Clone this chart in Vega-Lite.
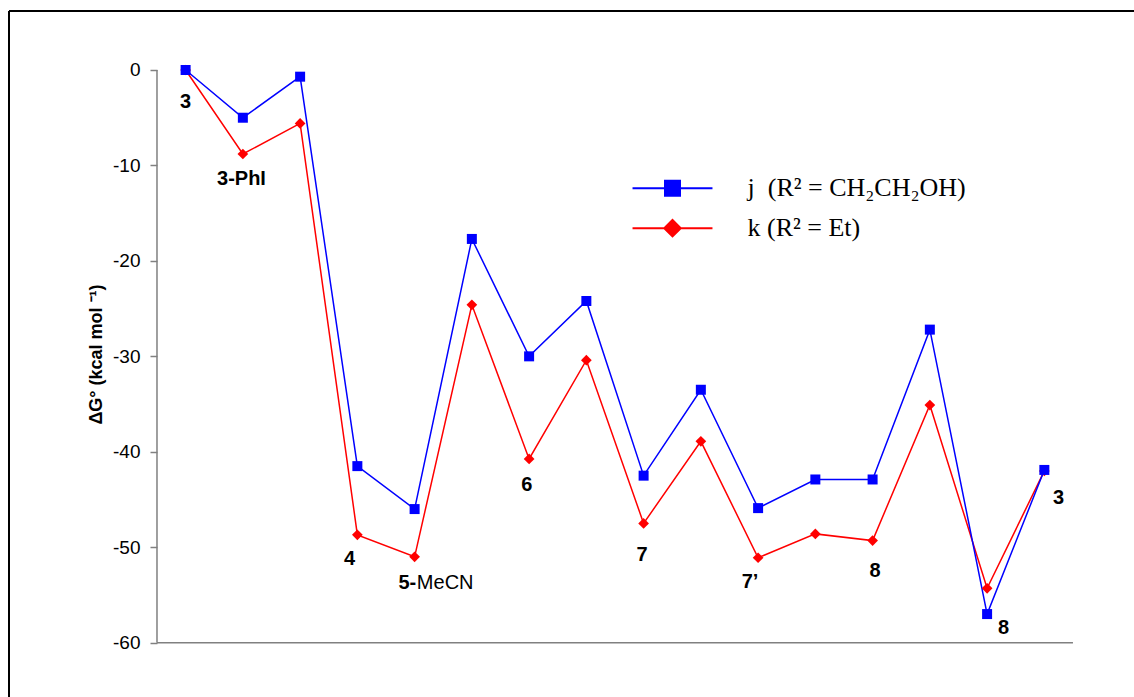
{
  "$schema": "https://vega.github.io/schema/vega-lite/v6.json",
  "width": 1125,
  "height": 686,
  "padding": {"left": 9, "top": 11, "right": 0, "bottom": 0},
  "autosize": {"type": "none"},
  "background": "white",
  "config": {"view": {"stroke": null}},
  "datasets": {
    "energies": [
      {"step": 1, "series": "j", "dG": 0},
      {"step": 2, "series": "j", "dG": -5.0},
      {"step": 3, "series": "j", "dG": -0.7},
      {"step": 4, "series": "j", "dG": -41.5},
      {"step": 5, "series": "j", "dG": -46.0},
      {"step": 6, "series": "j", "dG": -17.7},
      {"step": 7, "series": "j", "dG": -30.0},
      {"step": 8, "series": "j", "dG": -24.2},
      {"step": 9, "series": "j", "dG": -42.5},
      {"step": 10, "series": "j", "dG": -33.5},
      {"step": 11, "series": "j", "dG": -45.9},
      {"step": 12, "series": "j", "dG": -42.9},
      {"step": 13, "series": "j", "dG": -42.9},
      {"step": 14, "series": "j", "dG": -27.2},
      {"step": 15, "series": "j", "dG": -57.0},
      {"step": 16, "series": "j", "dG": -41.9},
      {"step": 1, "series": "k", "dG": 0},
      {"step": 2, "series": "k", "dG": -8.8},
      {"step": 3, "series": "k", "dG": -5.6},
      {"step": 4, "series": "k", "dG": -48.7},
      {"step": 5, "series": "k", "dG": -51.0},
      {"step": 6, "series": "k", "dG": -24.6},
      {"step": 7, "series": "k", "dG": -40.75},
      {"step": 8, "series": "k", "dG": -30.4},
      {"step": 9, "series": "k", "dG": -47.5},
      {"step": 10, "series": "k", "dG": -38.9},
      {"step": 11, "series": "k", "dG": -51.1},
      {"step": 12, "series": "k", "dG": -48.6},
      {"step": 13, "series": "k", "dG": -49.3},
      {"step": 14, "series": "k", "dG": -35.1},
      {"step": 15, "series": "k", "dG": -54.3},
      {"step": 16, "series": "k", "dG": -42.0}
    ],
    "boldLabels": [
      {"step": 1.0, "dG": -3.35, "label": "3"},
      {"step": 1.976, "dG": -11.47, "label": "3-PhI"},
      {"step": 3.863, "dG": -51.23, "label": "4"},
      {"step": 4.873, "dG": -53.78, "label": "5-"},
      {"step": 6.958, "dG": -43.43, "label": "6"},
      {"step": 8.972, "dG": -50.76, "label": "7"},
      {"step": 10.859, "dG": -53.59, "label": "7’"},
      {"step": 13.042, "dG": -52.44, "label": "8"},
      {"step": 15.286, "dG": -58.41, "label": "8"},
      {"step": 16.247, "dG": -44.84, "label": "3"}
    ],
    "plainLabels": [
      {"step": 5.534, "dG": -53.78, "label": "MeCN"}
    ],
    "one": [{}]
  },
  "layer": [
    {
      "data": {"name": "one"},
      "mark": {"type": "rule", "color": "black", "strokeWidth": 2},
      "encoding": {
        "x": {"datum": -2.085, "type": "quantitative", "scale": {"domain": [-2.085, 17.566], "nice": false, "zero": false}, "axis": null},
        "y": {"datum": 6.181, "type": "quantitative", "scale": {"domain": [-65.689, 6.181], "nice": false, "zero": false}},
        "y2": {"datum": -65.689}
      }
    },
    {
      "data": {"name": "one"},
      "mark": {"type": "rule", "color": "black", "strokeWidth": 2},
      "encoding": {
        "y": {"datum": 6.181, "type": "quantitative"},
        "x": {"datum": -2.085, "type": "quantitative"},
        "x2": {"datum": 17.566}
      }
    },
    {
      "data": {"name": "one"},
      "mark": {"type": "rule", "color": "#808080", "strokeWidth": 1.5},
      "encoding": {
        "x": {"datum": 0.5, "type": "quantitative"},
        "y": {"datum": 0, "type": "quantitative"},
        "y2": {"datum": -60}
      }
    },
    {
      "data": {"name": "one"},
      "mark": {"type": "rule", "color": "#808080", "strokeWidth": 1.5},
      "encoding": {
        "y": {"datum": -60, "type": "quantitative"},
        "x": {"datum": 0.5, "type": "quantitative"},
        "x2": {"datum": 16.5}
      }
    },
    {
      "data": {"name": "energies"},
      "transform": [{"filter": "datum.series === 'k'"}],
      "mark": {"type": "line", "strokeWidth": 1.5},
      "encoding": {
        "x": {"field": "step", "type": "quantitative"},
        "y": {
          "field": "dG", "type": "quantitative",
          "axis": {
            "values": [-60, -50, -40, -30, -20, -10, 0],
            "labelExpr": "datum.value == 0 ? '0' : '-' + abs(datum.value)",
            "domain": false, "grid": false,
            "tickColor": "#808080", "tickSize": 7, "tickWidth": 1.5,
            "labelFont": "Liberation Sans", "labelFontSize": 19, "labelColor": "black", "labelPadding": 10,
            "offset": -148,
            "title": "ΔG° (kcal mol ⁻¹)",
            "titleFont": "Liberation Sans", "titleFontSize": 18, "titleFontWeight": "bold", "titleColor": "black", "titlePadding": 7
          }
        },
        "color": {
          "field": "series", "type": "nominal",
          "scale": {"domain": ["j", "k"], "range": ["#0000FF", "#FF0000"]},
          "legend": {
            "orient": "none", "legendX": 650.5, "legendY": 164.2,
            "title": null, "padding": 0, "rowPadding": 14,
            "symbolSize": 225, "symbolStrokeWidth": 2, "symbolOpacity": 1,
            "labelOffset": 62,
            "labelFont": "Liberation Serif", "labelFontSize": 26, "labelColor": "black", "labelLimit": 0,
            "labelExpr": "datum.value === 'j' ? 'j\u00a0\u00a0(R² = CH₂CH₂OH)' : 'k (R² = Et)'",
            "encode": {
              "symbols": {
                "update": {
                  "shape": {"signal": "datum.value === 'j' ? 'M-5.33,0H5.33M-1,-1H1V1H-1Z' : 'M-5.33,0H5.33M0,-1.1L1.1,0L0,1.1L-1.1,0Z'"},
                  "fill": {"signal": "datum.value === 'j' ? '#0000FF' : '#FF0000'"},
                  "stroke": {"signal": "datum.value === 'j' ? '#0000FF' : '#FF0000'"},
                  "strokeWidth": {"value": 2},
                  "opacity": {"value": 1},
                  "fillOpacity": {"value": 1}
                }
              }
            }
          }
        }
      }
    },
    {
      "data": {"name": "energies"},
      "transform": [{"filter": "datum.series === 'j'"}],
      "mark": {"type": "line", "strokeWidth": 1.5},
      "encoding": {
        "x": {"field": "step", "type": "quantitative"},
        "y": {"field": "dG", "type": "quantitative"},
        "color": {"field": "series", "type": "nominal"}
      }
    },
    {
      "data": {"name": "energies"},
      "transform": [{"filter": "datum.series === 'k'"}],
      "mark": {"type": "point", "filled": true, "opacity": 1, "shape": "diamond", "size": 115},
      "encoding": {
        "x": {"field": "step", "type": "quantitative"},
        "y": {"field": "dG", "type": "quantitative"},
        "color": {"field": "series", "type": "nominal"}
      }
    },
    {
      "data": {"name": "energies"},
      "transform": [{"filter": "datum.series === 'j'"}],
      "mark": {"type": "point", "filled": true, "opacity": 1, "shape": "square", "size": 100},
      "encoding": {
        "x": {"field": "step", "type": "quantitative"},
        "y": {"field": "dG", "type": "quantitative"},
        "color": {"field": "series", "type": "nominal"}
      }
    },
    {
      "data": {"name": "boldLabels"},
      "mark": {"type": "text", "font": "Liberation Sans", "fontSize": 20, "fontWeight": "bold", "color": "black", "align": "center", "baseline": "middle"},
      "encoding": {
        "x": {"field": "step", "type": "quantitative"},
        "y": {"field": "dG", "type": "quantitative"},
        "text": {"field": "label"}
      }
    },
    {
      "data": {"name": "plainLabels"},
      "mark": {"type": "text", "font": "Liberation Sans", "fontSize": 20, "color": "black", "align": "center", "baseline": "middle"},
      "encoding": {
        "x": {"field": "step", "type": "quantitative"},
        "y": {"field": "dG", "type": "quantitative"},
        "text": {"field": "label"}
      }
    }
  ]
}
